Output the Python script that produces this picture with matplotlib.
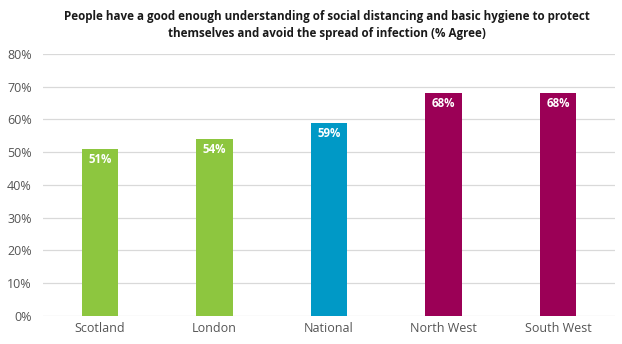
import matplotlib
matplotlib.use("Agg")
import matplotlib.pyplot as plt
from matplotlib.ticker import FuncFormatter

plt.rcParams['font.family'] = ['Open Sans', 'DejaVu Sans']

regions = ["Scotland", "London", "National", "North West", "South West"]
agree = [51, 54, 59, 68, 68]
colors = ["#8dc63f", "#8dc63f", "#0099c6", "#9b0056", "#9b0056"]

fig = plt.figure(figsize=(6.22, 3.44), dpi=100)
ax = fig.add_axes([0.069, 0.0814, 0.92, 0.762])

x = range(len(regions))
bars = ax.bar(x, agree, width=0.32, color=colors, zorder=3)

for b, v in zip(bars, agree):
    ax.text(b.get_x() + b.get_width() / 2, v - 1.3, f"{v}%",
            ha="center", va="top", color="white", fontsize=8.3,
            fontweight="bold", zorder=4)

ax.set_xlim(-0.5, len(regions) - 0.5)
ax.set_ylim(0, 80)
ax.set_yticks(range(0, 81, 10))
ax.yaxis.set_major_formatter(FuncFormatter(lambda v, _: f"{int(v)}%"))
ax.set_xticks(list(x))
ax.set_xticklabels(regions)
ax.tick_params(axis="both", length=0, labelsize=9, colors="#555555")
ax.tick_params(axis="y", pad=8)
ax.tick_params(axis="x", pad=4)
ax.grid(axis="y", color="#d9d9d9", linewidth=0.9, zorder=0)
for s in ax.spines.values():
    s.set_visible(False)

fig.text(0.526, 0.97, "People have a good enough understanding of social distancing and basic hygiene to protect\n"
         "themselves and avoid the spread of infection (% Agree)",
         ha="center", va="top", fontsize=8.4, fontweight="bold",
         color="#1a1a1a", linespacing=1.35)

fig.savefig("out.png", dpi=100)
